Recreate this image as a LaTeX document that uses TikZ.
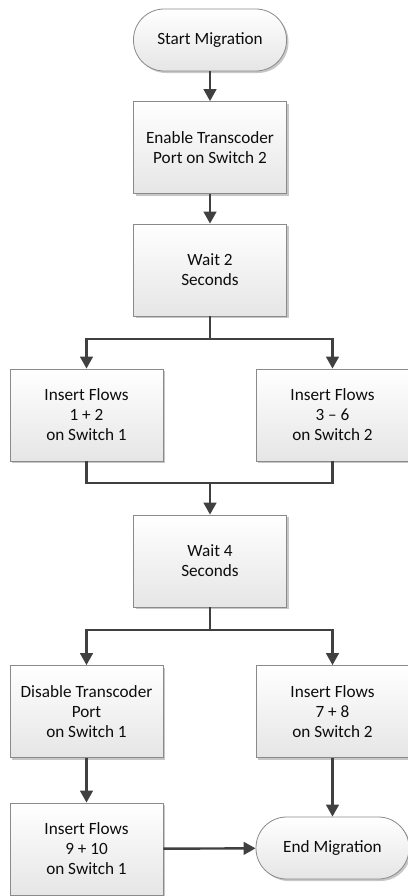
\documentclass[tikz,border=0pt]{standalone}
\usepackage{fontspec}
\setmainfont{Carlito}
\usetikzlibrary{arrows.meta,shadows}
\definecolor{linegray}{HTML}{404040}
\definecolor{boxgray}{HTML}{8A8A8A}

\begin{document}
\begin{tikzpicture}[x=0.75pt,y=-0.75pt,
  every node/.style={font=\fontsize{12.9}{15}\selectfont, text=black!95, align=center},
  stepbox/.style={draw=boxgray, line width=0.6pt, top color=white, bottom color=black!10,
    minimum width=114.75pt, minimum height=69pt, inner sep=0pt,
    drop shadow={shadow xshift=1.5pt, shadow yshift=-1.5pt, fill=black!22, opacity=1}},
  termbox/.style={stepbox, minimum height=46.5pt, rounded corners=23pt},
  flow/.style={draw=linegray, line width=1.8pt, -{Triangle[length=9pt,width=9.5pt]}},
  link/.style={draw=linegray, line width=1.8pt}]
\useasboundingbox (0,0) rectangle (407,896);
\node[termbox] (start) at (210,40) {Start Migration};
\node[stepbox] (enable) at (210,147.5) {Enable Transcoder\\Port on Switch 2};
\node[stepbox] (waittwo) at (210,270) {Wait 2\\Seconds};
\node[stepbox] (insA) at (86.5,415) {Insert Flows\\1 + 2\\on Switch 1};
\node[stepbox] (insB) at (332.5,415) {Insert Flows\\3 – 6\\on Switch 2};
\node[stepbox] (waitfour) at (210,561) {Wait 4\\Seconds};
\node[stepbox] (disable) at (86.5,711.5) {Disable Transcoder\\Port\\on Switch 1};
\node[stepbox] (insC) at (332.5,711.5) {Insert Flows\\7 + 8\\on Switch 2};
\node[stepbox] (insD) at (86.5,849) {Insert Flows\\9 + 10\\on Switch 1};
\node[termbox] (finish) at (332.5,848) {End Migration};
\coordinate (splitA) at (210,339);
\coordinate (joinA) at (210,483);
\coordinate (splitB) at (210,630);
\draw[flow] (start) -- (enable);
\draw[flow] (enable) -- (waittwo);
\draw[link] (waittwo) -- (splitA);
\draw[flow] (splitA) -| (insA);
\draw[flow] (splitA) -| (insB);
\draw[link] (insA) |- (joinA) -| (insB);
\draw[flow] (joinA) -- (waitfour);
\draw[link] (waitfour) -- (splitB);
\draw[flow] (splitB) -| (disable);
\draw[flow] (splitB) -| (insC);
\draw[flow] (disable) -- (insD);
\draw[flow] (insC) -- (finish);
\draw[flow] (insD) -- (finish);
\end{tikzpicture}
\end{document}
